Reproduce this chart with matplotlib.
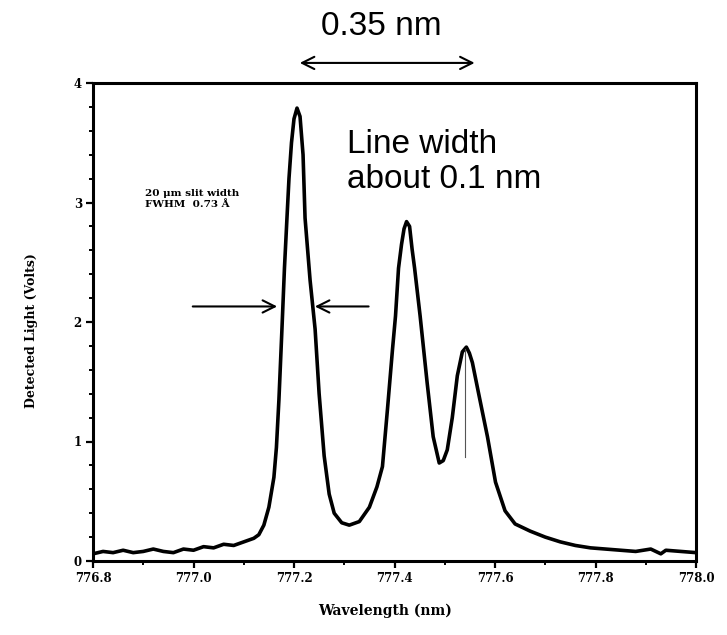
import matplotlib
matplotlib.use("Agg")
import numpy as np
from matplotlib import pyplot as plt
from matplotlib.ticker import MultipleLocator

# spectrum
wavelength = [776.80, 776.82, 776.84, 776.86, 776.88, 776.90, 776.92, 776.94, 776.96,
              776.98, 777.00, 777.02, 777.04, 777.06, 777.08, 777.10, 777.12, 777.13,
              777.14, 777.15, 777.16, 777.165, 777.17, 777.176, 777.181, 777.186,
              777.19, 777.195, 777.20, 777.206, 777.212, 777.218, 777.222, 777.232,
              777.242, 777.25, 777.26, 777.27, 777.28, 777.295, 777.31, 777.33,
              777.35, 777.365, 777.376, 777.386, 777.396, 777.402, 777.408, 777.414,
              777.419, 777.424, 777.430, 777.435, 777.440, 777.451, 777.465, 777.477,
              777.489, 777.497, 777.505, 777.515, 777.525, 777.535, 777.543, 777.549,
              777.555, 777.567, 777.585, 777.601, 777.62, 777.64, 777.67, 777.70,
              777.73, 777.76, 777.79, 777.82, 777.85, 777.88, 777.91, 777.93, 777.94,
              777.97, 778.00]
volts = [0.06, 0.08, 0.07, 0.09, 0.07, 0.08, 0.10, 0.08, 0.07,
         0.10, 0.09, 0.12, 0.11, 0.14, 0.13, 0.16, 0.19, 0.22,
         0.30, 0.45, 0.70, 0.95, 1.35, 1.94, 2.45, 2.87,
         3.20, 3.50, 3.70, 3.79, 3.72, 3.40, 2.87, 2.35,
         1.94, 1.40, 0.88, 0.56, 0.40, 0.32, 0.30, 0.33,
         0.45, 0.62, 0.79, 1.27, 1.77, 2.05, 2.45, 2.65,
         2.78, 2.84, 2.80, 2.61, 2.45, 2.05, 1.49, 1.04,
         0.82, 0.84, 0.93, 1.20, 1.55, 1.75, 1.79, 1.74,
         1.66, 1.41, 1.04, 0.66, 0.42, 0.31, 0.25, 0.20,
         0.16, 0.13, 0.11, 0.10, 0.09, 0.08, 0.10, 0.06, 0.09,
         0.08, 0.07]

x_ticks = [776.8, 777.0, 777.2, 777.4, 777.6, 777.8, 778.0]
y_ticks = [0, 1, 2, 3, 4]

# annotation positions (data units)
span_ends = (777.206, 777.565)
fwhm_level = 2.13
fwhm_left = (776.993, 777.172)
fwhm_right = (777.354, 777.236)
marker_line = (777.541, 0.87, 1.77)

scan_font = dict(family="DejaVu Serif", fontweight="bold")

fig = plt.figure(figsize=(7.27, 6.35), dpi=100)
ax = fig.add_axes([93 / 727, 1 - 561 / 635, 603 / 727, 478 / 635])

ax.plot(wavelength, volts, color="black", lw=2.6, solid_joinstyle="round")
ax.plot([marker_line[0]] * 2, marker_line[1:], color="#555555", lw=0.8)

ax.set_xlim(776.8, 778.0)
ax.set_ylim(0, 4)
ax.set_xticks(x_ticks)
ax.set_xticklabels([f"{t:.1f}" for t in x_ticks])
ax.set_yticks(y_ticks)
ax.xaxis.set_minor_locator(MultipleLocator(0.1))
ax.yaxis.set_minor_locator(MultipleLocator(0.2))
ax.tick_params(which="major", direction="out", length=5, width=1.6, pad=3)
ax.tick_params(which="minor", direction="out", length=3, width=1.4)
for lab in ax.get_xticklabels() + ax.get_yticklabels():
    lab.set_fontfamily("DejaVu Serif")
    lab.set_fontweight("bold")
    lab.set_fontsize(8.5)
for sp in ax.spines.values():
    sp.set_linewidth(2.2)

fig.text(32 / 727, 1 - 331 / 635, "Detected Light (Volts)", rotation=90,
         ha="center", va="center", fontsize=9, **scan_font)
fig.text(385 / 727, 1 - 611 / 635, "Wavelength (nm)", ha="center", va="center",
         fontsize=10, **scan_font)

ax.text(776.903, 3.03, "20 \u03bcm slit width\nFWHM  0.73 \u00c5", ha="left", va="center",
        fontsize=7.5, linespacing=1.3, **scan_font)

# slide annotations
arrow_kw = dict(arrowstyle="->", lw=1.5, color="black", mutation_scale=22)
ax.annotate("", xy=(fwhm_left[1], fwhm_level), xytext=(fwhm_left[0], fwhm_level),
            arrowprops=arrow_kw)
ax.annotate("", xy=(fwhm_right[1], fwhm_level), xytext=(fwhm_right[0], fwhm_level),
            arrowprops=arrow_kw)
ax.annotate("", xy=(span_ends[1], 1.042), xytext=(span_ends[0], 1.042),
            xycoords=ax.get_xaxis_transform(), textcoords=ax.get_xaxis_transform(),
            arrowprops=dict(arrowstyle="<->", lw=1.5, color="black", mutation_scale=22),
            annotation_clip=False)

fig.text(381 / 727, 1 - 35 / 635, "0.35 nm", ha="center", va="baseline",
         fontsize=24, family="Liberation Sans")
fig.text(347 / 727, 1 - 153 / 635, "Line width", ha="left", va="baseline",
         fontsize=24, family="Liberation Sans")
fig.text(347 / 727, 1 - 188 / 635, "about 0.1 nm", ha="left", va="baseline",
         fontsize=24, family="Liberation Sans")

fig.savefig("out.png", dpi=100)
